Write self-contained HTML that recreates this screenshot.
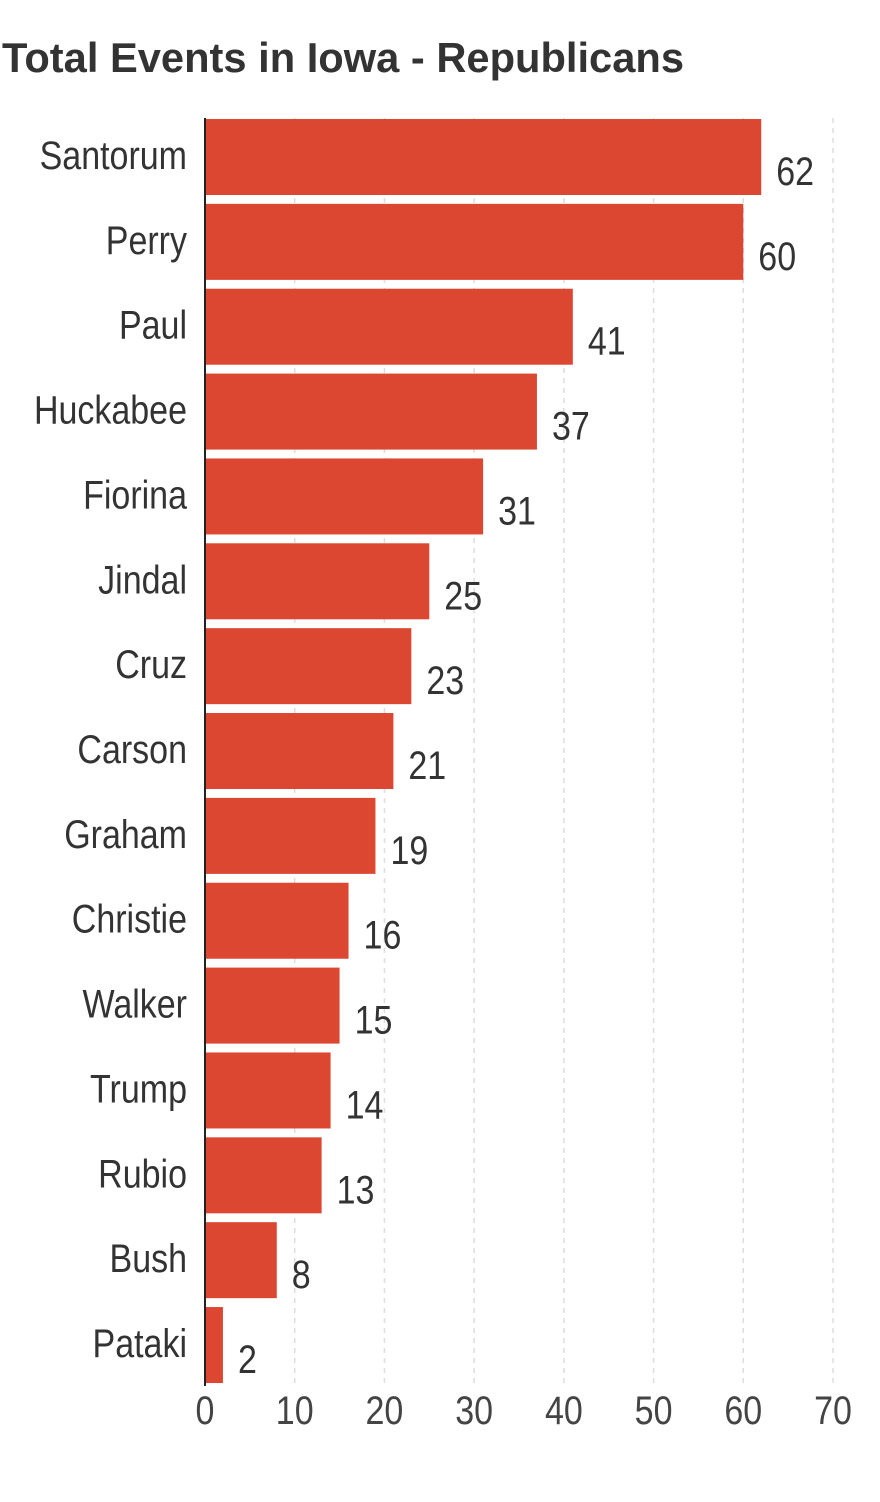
<!DOCTYPE html>
<html><head><meta charset="utf-8"><style>
body{margin:0;background:#fff;}
svg{display:block;font-family:"Liberation Sans Narrow","Liberation Sans",sans-serif;}
</style></head><body>
<svg width="880" height="1502" viewBox="0 0 880 1502" xmlns="http://www.w3.org/2000/svg">
<text x="2" y="72" font-size="42" font-weight="bold" fill="#333" textLength="682" lengthAdjust="spacingAndGlyphs">Total Events in Iowa - Republicans</text>
<g id="grid"></g><g id="bars"></g><g id="labels"></g><g id="ticks"></g>
<line x1="205" y1="118" x2="205" y2="1386" stroke="#222" stroke-width="2"/>
</svg>
<script>
const categories=["Santorum","Perry","Paul","Huckabee","Fiorina","Jindal","Cruz","Carson","Graham","Christie","Walker","Trump","Rubio","Bush","Pataki"];
const values=[62,60,41,37,31,25,23,21,19,16,15,14,13,8,2];
const tickValues=[0,10,20,30,40,50,60,70];
const NS="http://www.w3.org/2000/svg";
const x0=205,x1=833,xmax=70,top0=119,step=84.86,bh=76;
const xs=v=>x0+(x1-x0)*v/xmax;
const ys=i=>top0+i*step;
function mk(tag,attrs,parent,txt){const e=document.createElementNS(NS,tag);for(const k in attrs)e.setAttribute(k,attrs[k]);if(txt!==undefined)e.textContent=txt;document.getElementById(parent).appendChild(e);return e;}
tickValues.forEach(t=>{
  if(t>0){const g=mk('line',{x1:xs(t),x2:xs(t),y1:118,y2:1386,stroke:'#ddd','stroke-width':1.5,'stroke-dasharray':'5,5'},'grid');
  
  }
  const tx=mk('text',{transform:`translate(${xs(t)},1424) scale(0.85,1)`,'text-anchor':'middle','font-size':40,fill:'#444'},'ticks',String(t));
  
  
});
categories.forEach((c,i)=>{
  const y=ys(i);
  const r=mk('rect',{x:x0,y:y,width:xs(values[i])-x0,height:bh,fill:'#dc4732'},'bars');
  
  
  const l=mk('text',{transform:`translate(187,${y+bh/2+12}) scale(0.85,1)`,'text-anchor':'end','font-size':40,fill:'#333'},'labels',c);
  
  
  const v=mk('text',{transform:`translate(${xs(values[i])+15},${y+bh/2+28}) scale(0.85,1)`,'font-size':40,fill:'#333'},'labels',String(values[i]));
  
  
});
</script>
</body></html>
